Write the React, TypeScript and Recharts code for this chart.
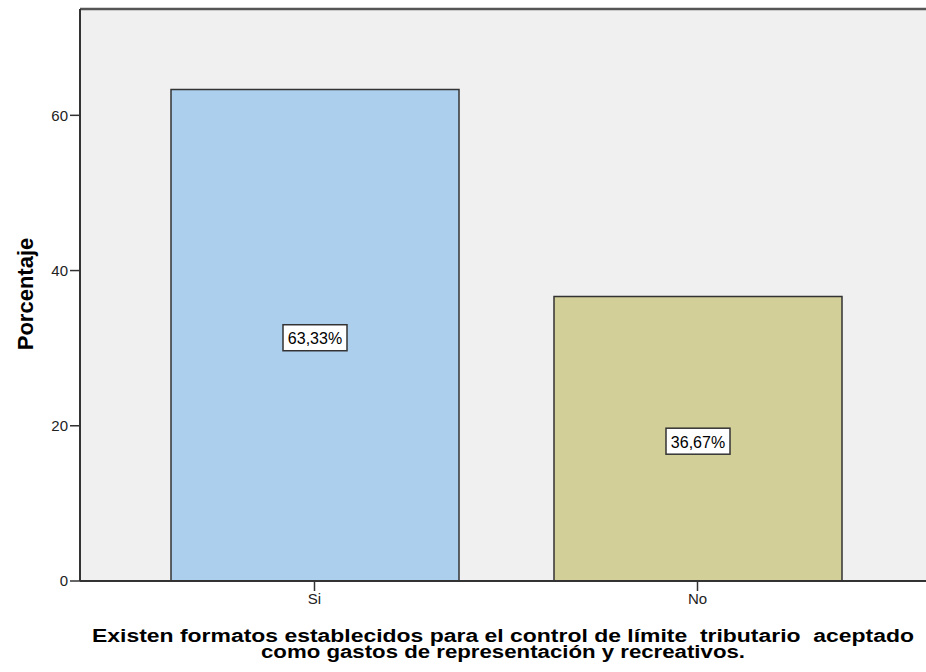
import React from "react";
import {
  BarChart,
  Bar,
  XAxis,
  YAxis,
  CartesianGrid,
  Cell,
  LabelList,
  ReferenceLine,
  Label,
} from "recharts";

const categories = ["Si", "No"];
const values = [63.33, 36.67];
const valueLabels = ["63,33%", "36,67%"];
const barColors = ["#ADCFEE", "#D3CF98"];
const yTicks = [0, 20, 40, 60];
const yMax = 73.7;

const data = categories.map((c, i) => ({
  name: c,
  value: values[i],
  label: valueLabels[i],
}));

const FONT = "'Liberation Sans', Arial, sans-serif";

const BoxLabel = (props: any) => {
  const { x, y, width, height, index } = props;
  const cx = x + width / 2;
  const cy = y + height / 2 + 2.5;
  const w = 64;
  const h = 26;
  return (
    <g>
      <rect
        x={cx - w / 2}
        y={cy - h / 2}
        width={w}
        height={h}
        fill="#FFFFFF"
        stroke="#333333"
        strokeWidth={1.5}
      />
      <text
        x={cx}
        y={cy + 1}
        textAnchor="middle"
        dominantBaseline="central"
        fontFamily={FONT}
        fontSize={16}
        fill="#000"
      >
        {valueLabels[index]}
      </text>
    </g>
  );
};

const XTitle = (props: any) => {
  const { viewBox } = props;
  const cx = viewBox.x + viewBox.width / 2;
  return (
    <g fontFamily={FONT} fontWeight="bold" fontSize={17.5} fill="#000">
      <text
        x={cx}
        y={642}
        textAnchor="middle"
        textLength={822}
        lengthAdjust="spacingAndGlyphs"
        style={{ whiteSpace: "pre" }}
      >
        {"Existen formatos establecidos para el control de límite  tributario  aceptado"}
      </text>
      <text
        x={cx}
        y={658}
        textAnchor="middle"
        textLength={484}
        lengthAdjust="spacingAndGlyphs"
      >
        {"como gastos de representación y recreativos."}
      </text>
    </g>
  );
};

const YTitle = () => {
  return (
    <text
      x={25}
      y={294}
      transform="rotate(-90 25 294)"
      textAnchor="middle"
      dominantBaseline="central"
      fontFamily={FONT}
      fontWeight="bold"
      fontSize={22}
      fill="#000"
    >
      Porcentaje
    </text>
  );
};

export default function App() {
  return (
    <div style={{ position: "fixed", left: 0, top: 0, width: 926, height: 672, background: "#fff" }}>
      <BarChart
        width={926}
        height={672}
        data={data}
        margin={{ top: 9, right: 0, bottom: 0, left: 0 }}
      >
        <CartesianGrid
          horizontal={false}
          vertical={false}
          fill="#F0F0F0"
          fillOpacity={1}
        />
        <XAxis
          dataKey="name"
          height={91}
          padding={{ left: 43, right: 37 }}
          tickSize={10}
          tickMargin={2}
          axisLine={{ stroke: "#333", strokeWidth: 2 }}
          tickLine={{ stroke: "#333", strokeWidth: 1.5 }}
          tick={{ fill: "#222", fontSize: 15, fontFamily: FONT }}
          interval={0}
        >
          <Label content={<XTitle />} />
        </XAxis>
        <YAxis
          width={80}
          domain={[0, yMax]}
          ticks={yTicks}
          allowDataOverflow
          tickSize={10}
          tickMargin={2}
          axisLine={{ stroke: "#333", strokeWidth: 2 }}
          tickLine={{ stroke: "#333", strokeWidth: 1.5 }}
          tick={{ fill: "#222", fontSize: 15, fontFamily: FONT }}
        >
          <Label content={<YTitle />} />
        </YAxis>
        <ReferenceLine y={yMax} stroke="#555" strokeWidth={2.5} ifOverflow="visible" />
        <Bar
          dataKey="value"
          barSize={288}
          stroke="#333"
          strokeWidth={1.5}
          isAnimationActive={false}
        >
          {data.map((d, i) => (
            <Cell key={d.name} fill={barColors[i]} />
          ))}
          <LabelList dataKey="label" content={<BoxLabel />} />
        </Bar>
      </BarChart>
    </div>
  );
}
